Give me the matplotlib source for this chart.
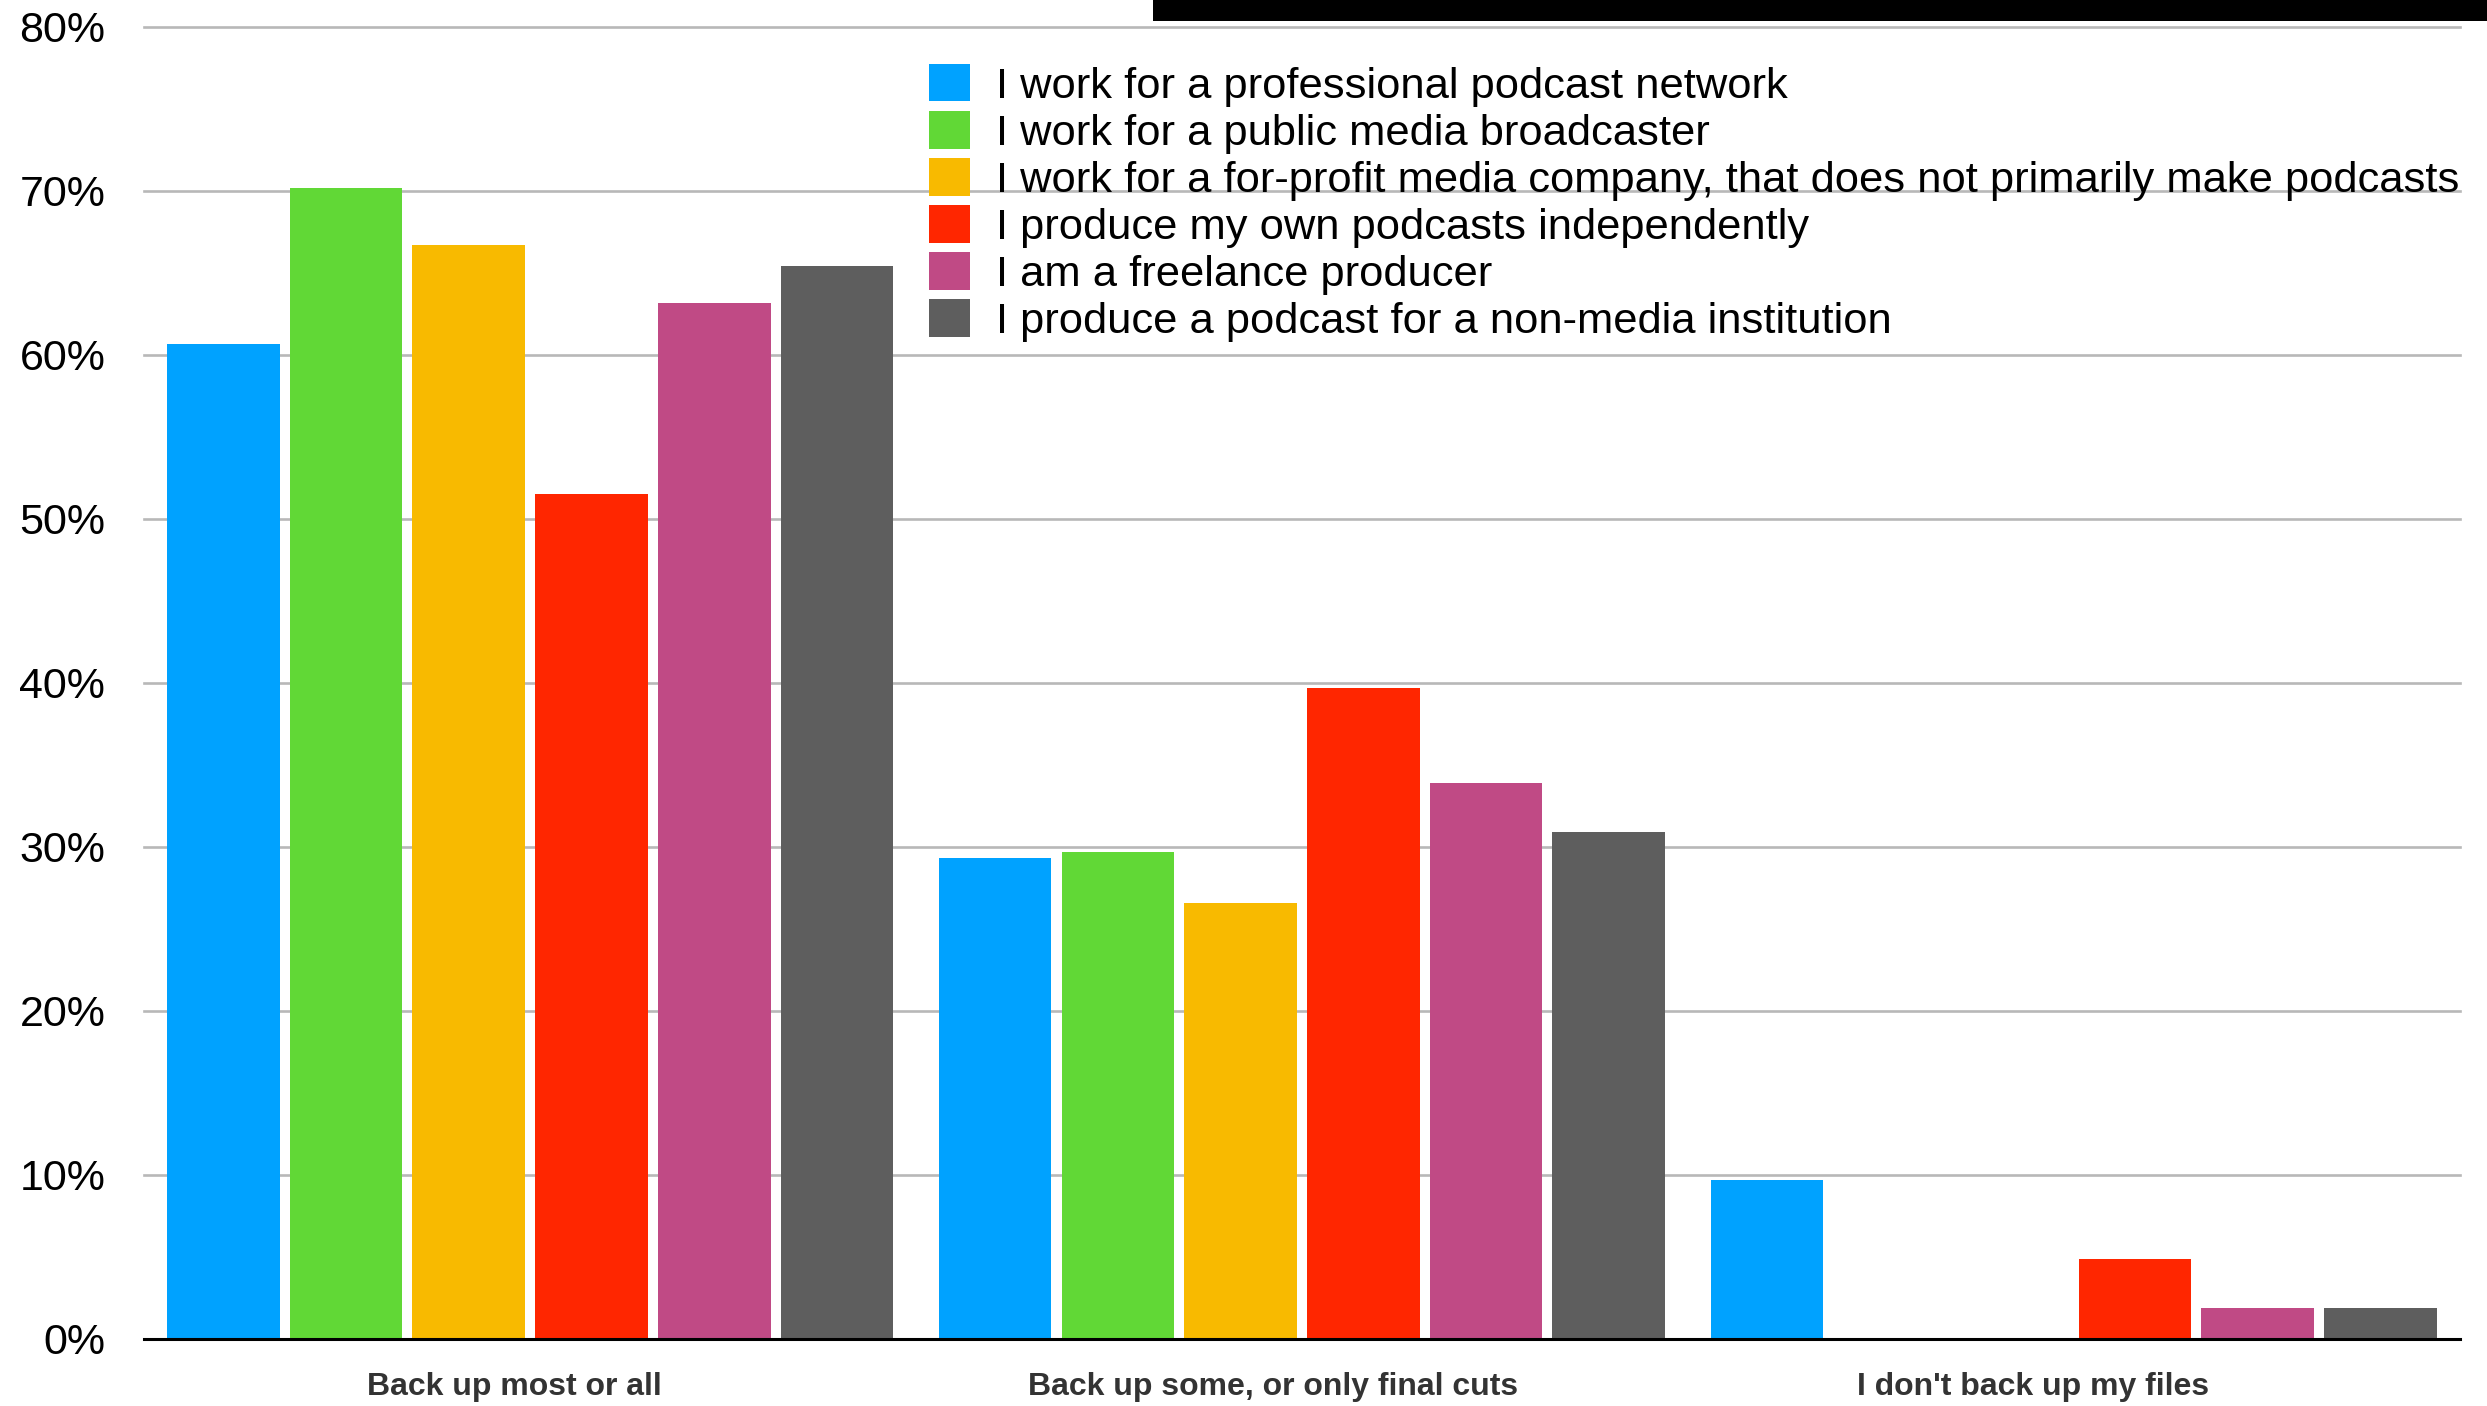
import numpy as np
import matplotlib
matplotlib.use("Agg")
import matplotlib.pyplot as plt
from matplotlib.patches import Rectangle

# Categories and series (percent of respondents)
categories = ["Back up most or all", "Back up some, or only final cuts", "I don't back up my files"]
series_labels = [
    "I work for a professional podcast network",
    "I work for a public media broadcaster",
    "I work for a for-profit media company, that does not primarily make podcasts",
    "I produce my own podcasts independently",
    "I am a freelance producer",
    "I produce a podcast for a non-media institution",
]
network = [60.7, 29.3, 9.7]
public_media = [70.2, 29.7, 0.0]
for_profit = [66.7, 26.6, 0.0]
independent = [51.5, 39.7, 4.9]
freelance = [63.2, 33.9, 1.9]
non_media = [65.4, 30.9, 1.9]
colors = ["#00a2ff", "#61d836", "#f8ba00", "#ff2600", "#c04a85", "#5e5e5e"]
y_ticks = [0, 10, 20, 30, 40, 50, 60, 70, 80]

series = [network, public_media, for_profit, independent, freelance, non_media]

plt.rcParams["font.family"] = ["Liberation Sans", "DejaVu Sans"]

fig = plt.figure(figsize=(24.87, 14.06), dpi=100)
ax = fig.add_axes([0.058, 0.0477, 0.931, 0.9331])

x = np.arange(len(categories))
slot = 0.159
width = 0.146
for i, (vals, label, color) in enumerate(zip(series, series_labels, colors)):
    offset = (i - (len(series) - 1) / 2) * slot
    ax.bar(x + offset, vals, width=width, color=color, label=label, zorder=3)

ax.set_xlim(-0.5, len(categories) - 0.5)
ax.set_ylim(0, 80)
ax.set_yticks(y_ticks)
ax.set_yticklabels([f"{t}%" for t in y_ticks], fontsize=31)
# category labels sit a little left of the group centres in the original
ax.set_xticks(x * 0.984 - 0.021)
ax.set_xticklabels(categories, fontsize=23, fontweight="bold", color="#333333")
ax.tick_params(axis="y", length=0, pad=28)
ax.tick_params(axis="x", length=0, pad=24)

for t in y_ticks[1:]:
    ax.axhline(t, color="#b8b8b8", linewidth=1.9, zorder=1, clip_on=False)

for side in ["top", "right", "left"]:
    ax.spines[side].set_visible(False)
ax.spines["bottom"].set_linewidth(2.2)
ax.spines["bottom"].set_color("black")
ax.spines["bottom"].set_zorder(4)

leg = ax.legend(
    loc="upper left",
    bbox_to_anchor=(929 / 2487, 1 - 64 / 1406),
    bbox_transform=fig.transFigure,
    frameon=False,
    fontsize=31.3,
    handlelength=0.95,
    handleheight=0.95,
    handletextpad=0.6,
    labelspacing=0.1,
    borderaxespad=0,
    borderpad=0,
)
leg.set_zorder(5)

# black strip along the top edge
fig.patches.append(Rectangle((1153 / 2487, 1 - 21 / 1406), 1 - 1153 / 2487, 21 / 1406,
                             transform=fig.transFigure, facecolor="black",
                             edgecolor="none", zorder=10))

fig.savefig("out.png", dpi=100)
